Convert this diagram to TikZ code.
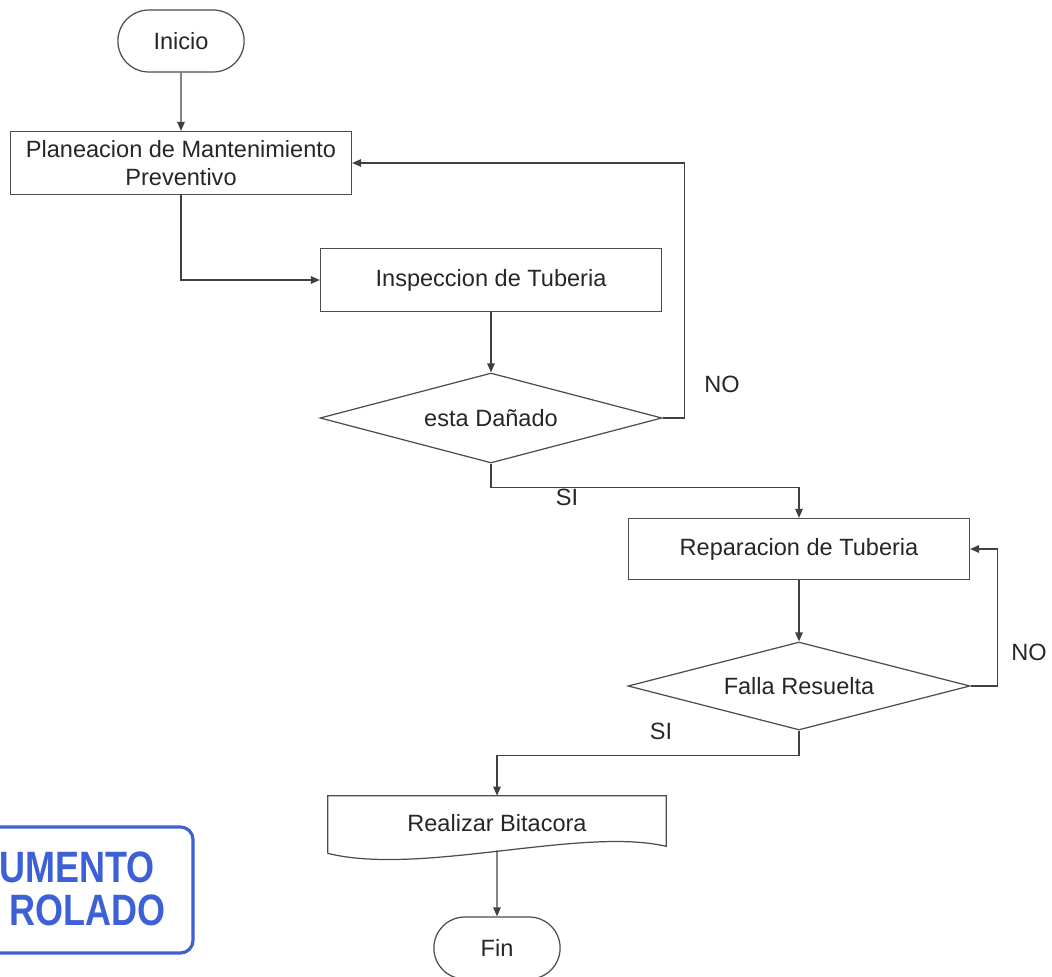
\documentclass[tikz,border=0pt]{standalone}
\usepackage{fontspec}
\setmainfont{Liberation Sans}
\usetikzlibrary{arrows.meta,positioning,calc,shapes.geometric,shapes.misc}

\definecolor{stampblue}{RGB}{62,96,214}

\tikzset{
  terminal/.style={rounded rectangle, draw=black!70, line width=0.7pt,
    minimum width=2.76cm, minimum height=1.24cm},
  process/.style={rectangle, draw=black!70, line width=0.7pt,
    minimum width=6.82cm, minimum height=1.26cm, align=center},
  decision/.style={diamond, draw=black!70, line width=0.7pt, inner sep=0pt,
    aspect=3.8, minimum width=6.84cm, minimum height=1.8cm},
  docshape/.style={rectangle, minimum width=6.76cm, minimum height=1.08cm},
  arc/.style={-{Triangle[length=1.8mm,width=1.5mm]}, draw=black!75, line width=0.7pt},
  stamptxt/.style={text=stampblue, inner sep=0pt, xscale=0.82,
    font=\fontsize{25}{30}\selectfont\bfseries}
}

\begin{document}
\begin{tikzpicture}[x=0.02cm,y=-0.02cm,
    every node/.style={font=\fontsize{13.4}{16}\selectfont, text=black!85}]
    \clip (0,0) rectangle (1052,977);

    %%%% Flow =======================================
    % Nodes
    \node[terminal] (inicio) at (181,41) {Inicio};
    \node[process] (plan) at (181,163) {Planeacion de Mantenimiento\\Preventivo};
    \node[process] (insp) at (491,280) {Inspeccion de Tuberia};
    \node[decision] (danado) at (491,418) {esta Dañado};
    \node[process, minimum height=1.22cm] (repar) at (799,549) {Reparacion de Tuberia};
    \node[decision, minimum height=1.76cm] (falla) at (799,686) {Falla Resuelta};
    \node[docshape] (bitacora) at (497,823) {Realizar Bitacora};
    \node[terminal] (fin) at (497,948) {Fin};

    % Document outline
    \draw[draw=black!70, line width=0.7pt] ($(bitacora.south west)+(0,3)$)
        -- (bitacora.north west) -- (bitacora.north east)
        -- ($(bitacora.south east)+(0,-4)$)
        .. controls ($(bitacora.south east)+(-85,-24)$) and ($(bitacora.south west)+(93,26)$)
        .. ($(bitacora.south west)+(0,3)$);

    % Labels
    \node (no1) at (722,384) {NO};
    \node (si1) at (567,497) {SI};
    \node (no2) at (1029,652) {NO};
    \node (si2) at (661,731) {SI};

    % Arcs
    \draw[arc] (inicio) -- (plan);
    \draw[arc] (plan.south) |- (insp.west);
    \draw[arc] (insp) -- (danado);
    \draw[arc] (danado.east) -- ++(22,0) |- (plan.east);
    \draw[arc] (danado.south) -- ++(0,24) -| (repar.north);
    \draw[arc] (repar) -- (falla);
    \draw[arc] (falla.east) -- ++(27,0) |- (repar.east);
    \draw[arc] (falla.south) -- ++(0,25) -| (bitacora.north);
    \draw[arc] (bitacora.south) -- (fin);

    %%%% Stamp ======================================
    \draw[stampblue, line width=1.8pt, rounded corners=0.25cm] (-30,827) rectangle (193,953);
    \node[stamptxt, anchor=east] (stamp1) at (155,867) {UMENTO};
    \node[stamptxt, anchor=east] (stamp2) at (166,910) {ROLADO};
\end{tikzpicture}
\end{document}
